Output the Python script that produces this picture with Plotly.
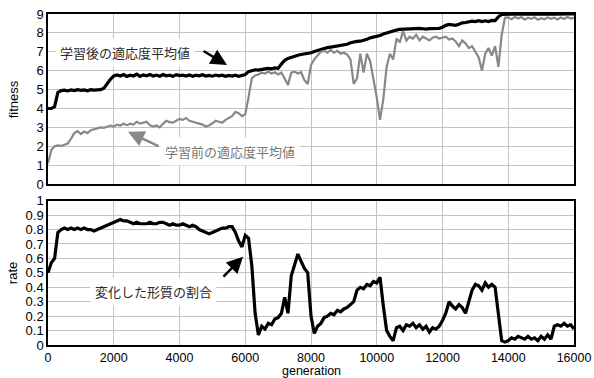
import plotly.graph_objects as go
from plotly.subplots import make_subplots

generation = list(range(0, 16001, 100))

fitness_after = [
    4.00, 4.00, 4.10, 4.85, 4.95, 4.97, 4.93, 4.98, 4.95, 5.00,
    4.96, 4.98, 4.94, 5.00, 4.97, 4.99, 5.00, 5.08, 5.35, 5.55,
    5.72, 5.78, 5.72, 5.80, 5.70, 5.76, 5.72, 5.82, 5.70, 5.78,
    5.73, 5.80, 5.72, 5.77, 5.71, 5.80, 5.73, 5.76, 5.70, 5.79,
    5.74, 5.77, 5.72, 5.78, 5.71, 5.76, 5.73, 5.79, 5.72, 5.75,
    5.71, 5.77, 5.73, 5.76, 5.70, 5.75, 5.72, 5.76, 5.70, 5.74,
    5.80, 5.95, 6.00, 6.05, 6.03, 6.08, 6.10, 6.12, 6.10, 6.15,
    6.13, 6.35, 6.55, 6.65, 6.72, 6.78, 6.82, 6.86, 6.88, 6.93,
    6.95, 7.02, 7.08, 7.13, 7.18, 7.22, 7.25, 7.28, 7.27, 7.32,
    7.35, 7.40, 7.48, 7.53, 7.55, 7.56, 7.60, 7.66, 7.74, 7.78,
    7.80, 7.86, 7.94, 8.00, 8.06, 8.10, 8.15, 8.19, 8.20, 8.22,
    8.20, 8.23, 8.21, 8.24, 8.22, 8.20, 8.23, 8.22, 8.25, 8.24,
    8.30, 8.40, 8.45, 8.44, 8.40, 8.46, 8.53, 8.55, 8.58, 8.62,
    8.60, 8.65, 8.60, 8.64, 8.60, 8.66, 8.65, 8.85, 8.98, 9.00,
    8.99, 9.00, 8.99, 9.00, 8.99, 9.00, 8.99, 9.00, 8.99, 9.00,
    8.99, 9.00, 8.99, 9.00, 8.99, 9.00, 8.99, 9.00, 8.99, 9.00,
    9.00,
]

fitness_before = [
    1.10, 1.80, 2.00, 2.05, 2.02, 2.10, 2.15, 2.40, 2.70, 2.80,
    2.65, 2.78, 2.70, 2.85, 2.90, 2.95, 3.00, 2.98, 3.05, 3.10,
    3.05, 3.15, 3.10, 3.20, 3.12, 3.20, 3.15, 3.30, 3.20, 3.25,
    3.30, 3.12, 3.05, 3.10, 3.00, 3.20, 3.35, 3.28, 3.25, 3.35,
    3.45, 3.40, 3.50, 3.35, 3.30, 3.25, 3.20, 3.15, 3.05, 3.10,
    3.22, 3.35, 3.30, 3.25, 3.40, 3.52, 3.60, 3.82, 3.75, 3.60,
    3.70, 4.60, 5.60, 5.75, 5.80, 5.90, 5.85, 5.95, 5.85, 5.92,
    5.80, 5.90, 5.55, 5.25, 5.90, 5.95, 5.85, 5.92, 5.50, 5.30,
    6.30, 6.60, 6.80, 7.00, 7.05, 6.95, 7.10, 6.95, 7.05, 6.90,
    6.95, 6.85, 6.60, 5.30, 5.60, 6.90, 5.90, 6.90, 6.50, 5.60,
    4.60, 3.40, 4.50, 6.20, 6.90, 6.60, 7.70, 7.50, 8.10, 7.60,
    7.80, 7.70, 7.90, 7.60, 7.80, 7.70, 7.60, 7.75, 7.80, 7.70,
    7.75, 7.80, 7.65, 7.70, 7.55, 7.30, 7.60, 7.45, 7.20, 7.30,
    7.00, 6.70, 6.00, 6.90, 7.20, 6.80, 7.30, 6.20, 7.90, 8.80,
    8.82, 8.72, 8.85, 8.76, 8.84, 8.70, 8.80, 8.74, 8.83, 8.70,
    8.78, 8.72, 8.82, 8.75, 8.80, 8.71, 8.81, 8.74, 8.84, 8.76,
    8.80,
]

rate = [
    0.50, 0.57, 0.60, 0.78, 0.80, 0.81, 0.80, 0.81, 0.80, 0.81,
    0.80, 0.81, 0.80, 0.80, 0.79, 0.80, 0.81, 0.82, 0.83, 0.84,
    0.85, 0.86, 0.87, 0.86, 0.86, 0.85, 0.84, 0.85, 0.84, 0.84,
    0.84, 0.85, 0.84, 0.84, 0.85, 0.85, 0.84, 0.83, 0.84, 0.83,
    0.83, 0.84, 0.83, 0.82, 0.83, 0.82, 0.80, 0.79, 0.78, 0.77,
    0.78, 0.79, 0.80, 0.81, 0.81, 0.82, 0.82, 0.78, 0.72, 0.68,
    0.76, 0.74, 0.55, 0.22, 0.07, 0.13, 0.11, 0.15, 0.14, 0.18,
    0.19, 0.22, 0.33, 0.22, 0.48, 0.56, 0.63, 0.58, 0.53, 0.50,
    0.20, 0.08, 0.13, 0.15, 0.19, 0.20, 0.22, 0.21, 0.24, 0.23,
    0.25, 0.26, 0.28, 0.30, 0.38, 0.40, 0.39, 0.42, 0.41, 0.44,
    0.43, 0.47, 0.27, 0.10, 0.06, 0.03, 0.12, 0.13, 0.10, 0.14,
    0.13, 0.15, 0.12, 0.14, 0.11, 0.13, 0.09, 0.12, 0.11, 0.13,
    0.17, 0.22, 0.30, 0.27, 0.25, 0.28, 0.26, 0.22, 0.30, 0.38,
    0.42, 0.41, 0.38, 0.43, 0.40, 0.42, 0.40, 0.20, 0.03, 0.02,
    0.03, 0.05, 0.04, 0.06, 0.05, 0.04, 0.06, 0.04, 0.05, 0.03,
    0.06, 0.04, 0.07, 0.04, 0.13, 0.14, 0.13, 0.15, 0.13, 0.14,
    0.11,
]

fitness_ticks = list(range(0, 10))
rate_ticks = [0, 0.1, 0.2, 0.3, 0.4, 0.5, 0.6, 0.7, 0.8, 0.9, 1]
rate_ticklabels = ["0", "0.1", "0.2", "0.3", "0.4", "0.5", "0.6", "0.7", "0.8", "0.9", "1"]
gen_ticks = [0, 2000, 4000, 6000, 8000, 10000, 12000, 14000, 16000]
gen_ticklabels = ["0", "2000", "4000", "6000", "8000", "10000", "12000", "14000", "16000"]

label_after = "学習後の適応度平均値"
label_before = "学習前の適応度平均値"
label_rate = "変化した形質の割合"

fig = make_subplots(rows=2, cols=1, shared_xaxes=False, vertical_spacing=0.05)

fig.add_trace(go.Scatter(x=generation, y=fitness_after, mode="lines",
                         line=dict(color="black", width=3.2), showlegend=False), row=1, col=1)
fig.add_trace(go.Scatter(x=generation, y=fitness_before, mode="lines",
                         line=dict(color="#888888", width=2.2), showlegend=False), row=1, col=1)
fig.add_trace(go.Scatter(x=generation, y=rate, mode="lines",
                         line=dict(color="black", width=3.2), showlegend=False), row=2, col=1)

FONT = "Liberation Sans, Arial, Helvetica, sans-serif"
JP = "Noto Sans CJK JP"

axis_common = dict(showgrid=True, gridcolor="#c4c4c4", gridwidth=1, zeroline=False,
                   showline=True, linecolor="black", linewidth=1.5, mirror=True,
                   ticks="", automargin=False,
                   tickfont=dict(family=FONT, size=13, color="black"))

fig.update_xaxes(range=[0, 16000], tickvals=gen_ticks, ticktext=gen_ticklabels, **axis_common)
fig.update_xaxes(showticklabels=False, row=1, col=1)
fig.update_xaxes(tickfont=dict(family=FONT, size=12.5, color="black"), row=2, col=1)
fig.update_yaxes(**axis_common)
fig.update_yaxes(range=[0, 9], tickvals=fitness_ticks, row=1, col=1)
fig.update_yaxes(range=[0, 1], tickvals=rate_ticks, ticktext=rate_ticklabels, row=2, col=1)

fig.update_layout(
    width=594, height=378,
    margin=dict(l=48, r=20, t=14, b=33, autoexpand=False),
    paper_bgcolor="white", plot_bgcolor="white",
    font=dict(family=FONT, size=13, color="black"),
)
fig.update_layout(
    yaxis=dict(domain=[0.486, 1.0]),
    yaxis2=dict(domain=[0.0, 0.436]),
)

annotations = [
    # axis titles
    dict(text="fitness", xref="paper", yref="y domain", x=-0.066, y=0.5, showarrow=False,
         textangle=-90, xanchor="center", yanchor="middle", font=dict(family=FONT, size=13)),
    dict(text="rate", xref="paper", yref="y2 domain", x=-0.066, y=0.5, showarrow=False,
         textangle=-90, xanchor="center", yanchor="middle", font=dict(family=FONT, size=13)),
    dict(text="generation", xref="paper", yref="paper", x=0.5, y=-0.0785, showarrow=False,
         borderpad=0, xanchor="center", yanchor="middle", font=dict(family=FONT, size=12.5)),
    # arrows
    dict(x=5445, y=6.3, ax=4684, ay=7.09, xref="x", yref="y", axref="x", ayref="y",
         showarrow=True, arrowhead=2, arrowsize=1.3, arrowwidth=2.5, arrowcolor="black", text=""),
    dict(x=2433, y=2.77, ax=3407, ay=1.97, xref="x", yref="y", axref="x", ayref="y",
         showarrow=True, arrowhead=2, arrowsize=1.3, arrowwidth=2.5, arrowcolor="#888888", text=""),
    dict(x=5932, y=0.612, ax=5293, ay=0.464, xref="x2", yref="y2", axref="x2", ayref="y2",
         showarrow=True, arrowhead=2, arrowsize=1.3, arrowwidth=2.5, arrowcolor="black", text=""),
    # labels
    dict(text=label_after, x=2327, y=6.99, xref="x", yref="y", showarrow=False,
         bgcolor="white", borderpad=4, font=dict(family=JP, size=13, color="#2a2a2a")),
    dict(text=label_before, x=5551, y=1.72, xref="x", yref="y", showarrow=False,
         bgcolor="white", borderpad=4, font=dict(family=JP, size=13, color="#777777")),
    dict(text=label_rate, x=3209, y=0.374, xref="x2", yref="y2", showarrow=False,
         bgcolor="white", borderpad=4, font=dict(family=JP, size=13, color="#2a2a2a")),
]
fig.update_layout(annotations=annotations)

fig.write_html("out.html", config={"displayModeBar": False},
               post_script="document.body.style.margin='0';document.body.style.overflow='hidden';")
